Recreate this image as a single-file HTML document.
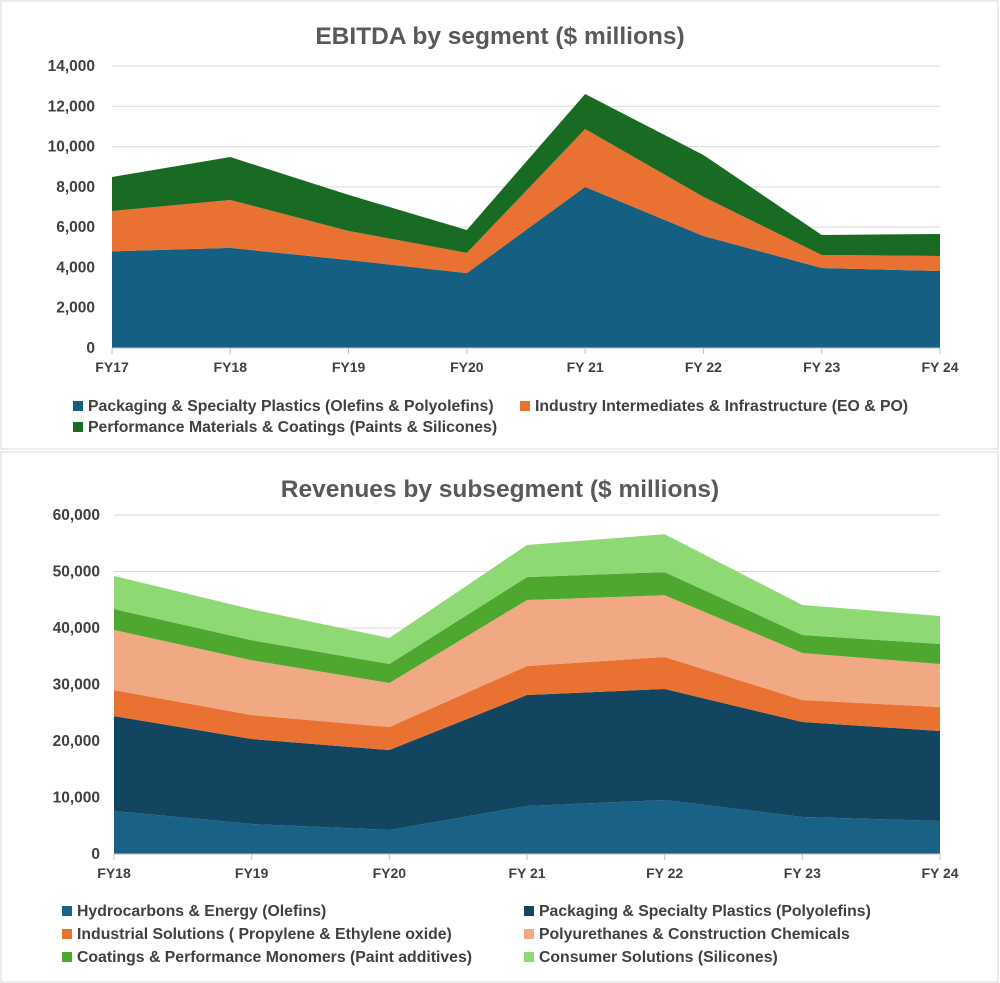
<!DOCTYPE html>
<html><head><meta charset="utf-8"><style>
body{margin:0;width:1000px;height:983px;background:#fff;font-family:"Liberation Sans",sans-serif;overflow:hidden}
svg{position:absolute;left:0;top:0}
</style></head><body>
<svg id="s" width="1000" height="983">
<rect x="1" y="1" width="997" height="448" fill="#fff" stroke="#d9d9d9"/>
<rect x="1" y="452" width="997" height="530" fill="#fff" stroke="#d9d9d9"/>
<text x="500" y="44" text-anchor="middle" font-size="24.5" font-weight="bold" fill="#595959">EBITDA by segment ($ millions)</text>
<text x="500" y="497" text-anchor="middle" font-size="24.5" font-weight="bold" fill="#595959">Revenues by subsegment ($ millions)</text>
<g id="c1"></g><g id="c2"></g>
</svg>
<script>
const cats1=["FY17","FY18","FY19","FY20","FY 21","FY 22","FY 23","FY 24"];
const pack1=[4800,4970,4370,3720,8000,5560,3970,3820];
const ind1=[2000,2380,1440,1000,2870,1940,650,750];
const perf1=[1690,2130,1790,1140,1740,2080,990,1090];
const ticks1=[0,2000,4000,6000,8000,10000,12000,14000];
const names1=["Packaging & Specialty Plastics (Olefins & Polyolefins)","Industry Intermediates & Infrastructure (EO & PO)","Performance Materials & Coatings (Paints & Silicones)"];

const cats2=["FY18","FY19","FY20","FY 21","FY 22","FY 23","FY 24"];
const hydro=[7600,5300,4250,8500,9550,6550,5840];
const poly=[16800,15050,14150,19640,19650,16810,15930];
const indus=[4600,4250,4080,5130,5670,3900,4250];
const pu=[10650,9700,7790,11680,10930,8310,7610];
const coat=[3710,3540,3360,4050,4100,3190,3540];
const cons=[5840,5480,4600,5700,6700,5310,4950];
const ticks2=[0,10000,20000,30000,40000,50000,60000];
const names2=["Hydrocarbons & Energy (Olefins)","Packaging & Specialty Plastics (Polyolefins)","Industrial Solutions ( Propylene & Ethylene oxide)","Polyurethanes & Construction Chemicals","Coatings & Performance Monomers (Paint additives)","Consumer Solutions (Silicones)"];

const NS="http://www.w3.org/2000/svg";
function mk(p,t,a){const e=document.createElementNS(NS,t);for(const k in a)e.setAttribute(k,a[k]);p.appendChild(e);return e;}
function draw(g,cats,series,colors,names,ticks,x0,x1,y0,y1,maxV,legend,prefix,tickRight){
  const X=i=>x0+(x1-x0)*i/(cats.length-1);
  const Y=v=>y0-(y0-y1)*v/maxV;
  ticks.forEach(t=>{
    const l=mk(g,"line",{x1:x0,x2:x1,y1:Y(t),y2:Y(t),stroke:"#d9d9d9","stroke-width":1});
    
    
    const tx=mk(g,"text",{x:tickRight,y:Y(t)+5,"text-anchor":"end","font-size":15.5,"font-weight":"bold",fill:"#404040"});
    tx.textContent=t.toLocaleString("en-US");
    
    
  });
  let base=cats.map(()=>0);
  series.forEach((s,k)=>{
    const top=base.map((b,i)=>b+s[i]);
    let d="M"+cats.map((c,i)=>X(i)+","+Y(top[i])).join(" L");
    for(let i=cats.length-1;i>=0;i--)d+=" L"+X(i)+","+Y(base[i]);
    const p=mk(g,"path",{d:d+"Z",fill:colors[k]});
    
    
    base=top;
  });
  mk(g,"line",{x1:x0,x2:x1,y1:y0,y2:y0,stroke:"#bfbfbf"});
  cats.forEach((c,i)=>{
    const tk=mk(g,"line",{x1:X(i),x2:X(i),y1:y0,y2:y0+6,stroke:"#bfbfbf"});
    
    
    const tx=mk(g,"text",{x:X(i),y:y0+24,"text-anchor":"middle","font-size":14,"font-weight":"bold",fill:"#404040"});
    tx.textContent=c;
    
    
  });
  names.forEach((n,k)=>{
    const [lx,ly]=legend[k];
    const r=mk(g,"rect",{x:lx,y:ly-10,width:10,height:10,fill:colors[k]});
    
    
    const t=mk(g,"text",{x:lx+15,y:ly,"font-size":15.8,"font-weight":"bold",fill:"#404040"});
    t.textContent=n;
    
    
  });
}
draw(document.getElementById("c1"),cats1,[pack1,ind1,perf1],["#156082","#e97132","#196b24"],names1,ticks1,112,940,348,66,14000,[[73,411],[520,411],[73,432]],"ebitda-",95);
draw(document.getElementById("c2"),cats2,[hydro,poly,indus,pu,coat,cons],["#196185","#124560","#e97132","#f1a983","#4ea72e","#8ed973"],names2,ticks2,114,940,854,515,60000,[[62,916],[524,916],[62,939],[524,939],[62,962],[524,962]],"revenue-",100);
</script>
</body></html>
